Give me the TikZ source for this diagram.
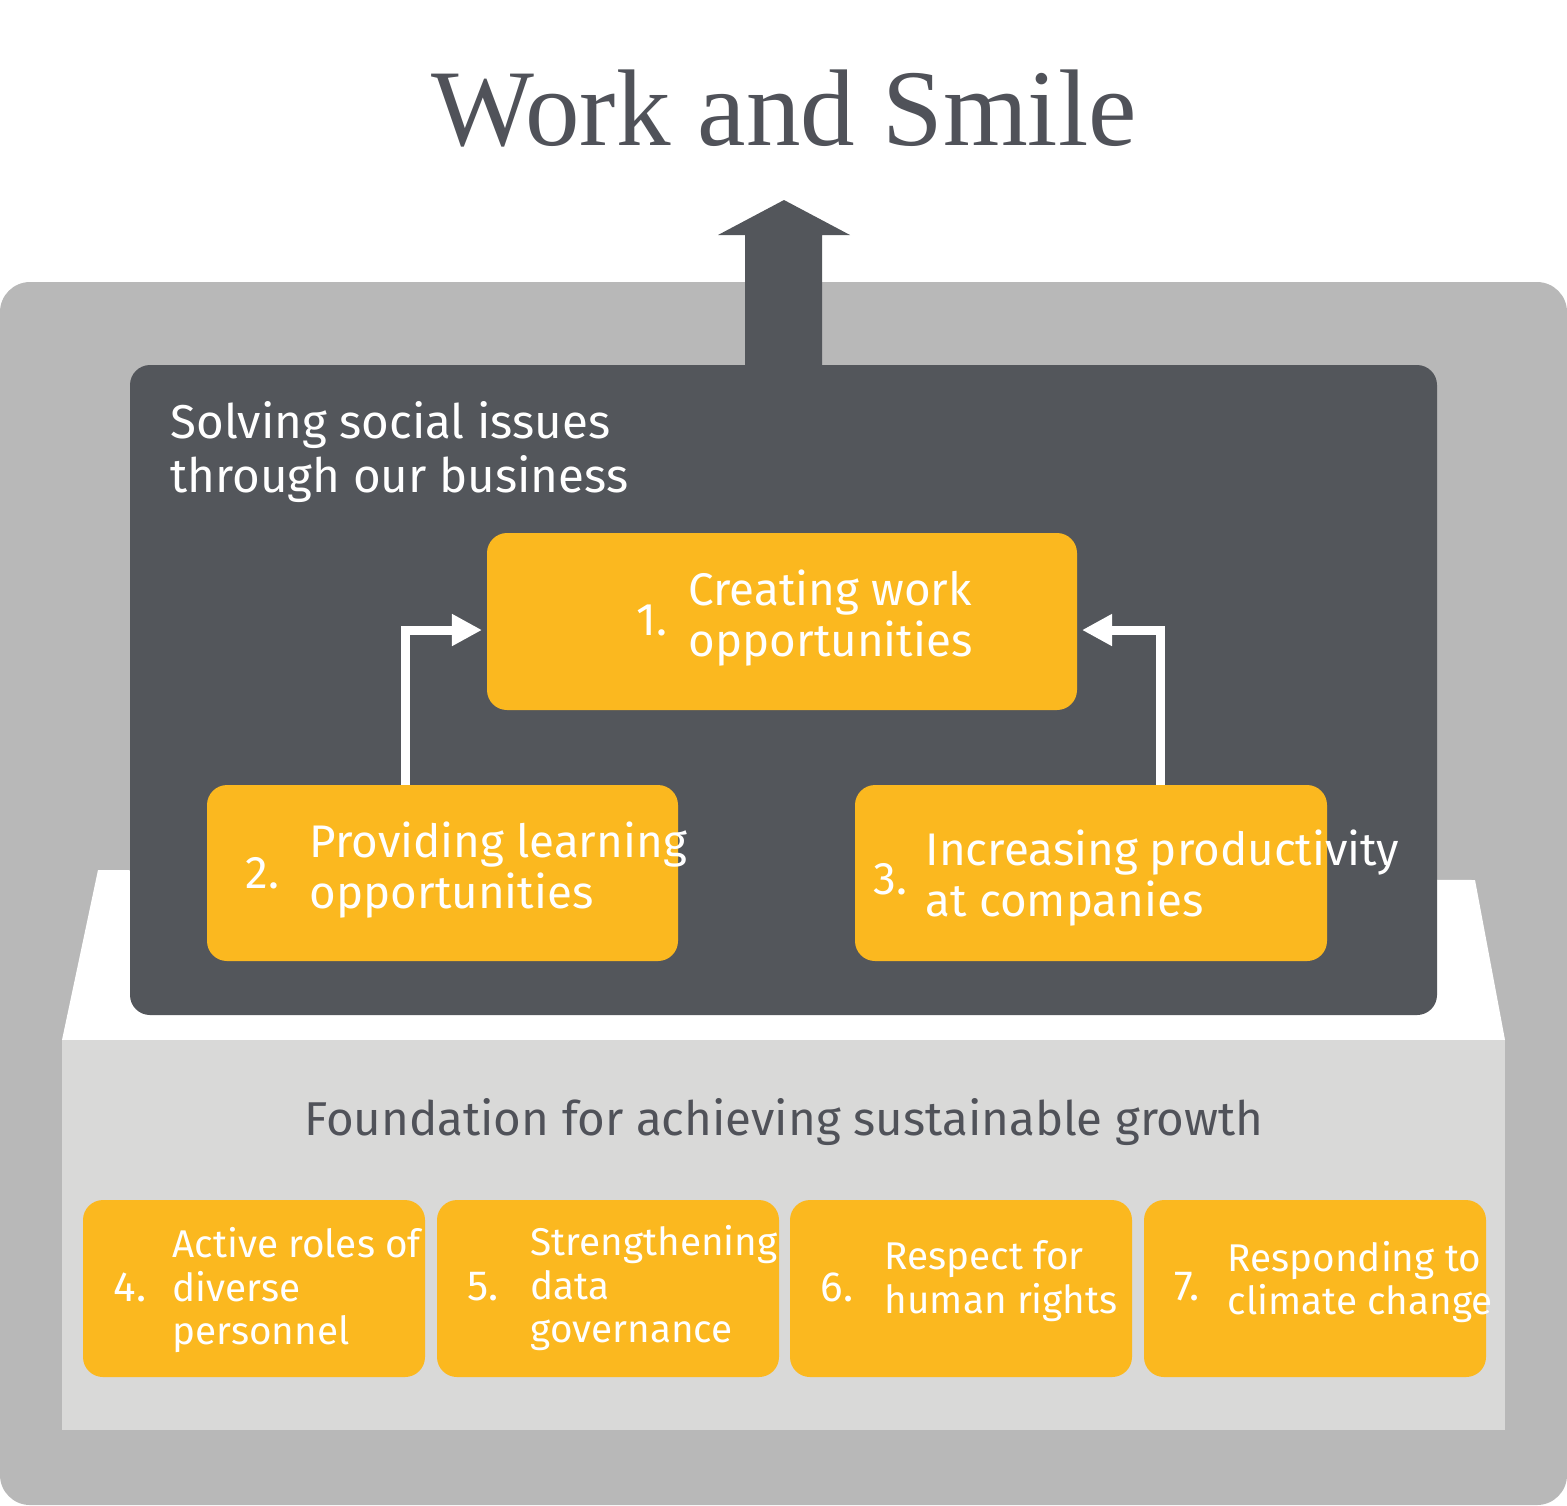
\documentclass[tikz,border=0pt]{standalone}
\usepackage{fontspec}
\usetikzlibrary{arrows.meta}
\setmainfont{Liberation Serif}
\newfontfamily\sansf{Fira Sans}
\definecolor{outer}{HTML}{B8B8B8}
\definecolor{lightg}{HTML}{D9D9D8}
\definecolor{darkb}{HTML}{53565B}
\definecolor{orng}{HTML}{FBB81F}
\definecolor{titlec}{HTML}{505259}
\begin{document}
\begin{tikzpicture}[x=0.01cm,y=-0.01cm,
  obox/.style={fill=orng,rounded corners=0.2cm},
  wtxt/.style={text=white,font=\sansf\fontsize{13}{14.5}\selectfont,anchor=west,align=left,inner sep=0},
  stxt/.style={text=white,font=\sansf\fontsize{11}{12.5}\selectfont,anchor=west,align=left,inner sep=0},
  warr/.style={white,line width=0.09cm,-{Triangle[width=0.3cm,length=0.3cm]}}]
\useasboundingbox (0,0) rectangle (1567,1505);
\fill[outer,rounded corners=0.3cm] (0,282) rectangle (1567,1505);
\fill[white] (98,870) -- (1475,880) -- (1505,1040) -- (62,1040) -- cycle;
\fill[lightg] (62,1040) rectangle (1505,1430);
\fill[darkb] (745,366) -- (745,235) -- (718,235) -- (784,200) -- (850,235) -- (822,235) -- (822,366) -- cycle;
\fill[darkb,rounded corners=0.2cm] (130,365) rectangle (1437,1015);
\node[anchor=center,text=titlec,font=\fontsize{31}{34}\selectfont] (title) at (784,108) {Work and Smile};
\node[wtxt,font=\sansf\fontsize{13.5}{15.5}\selectfont] (sol) at (170,452) {Solving social issues\\through our business};
\fill[obox] (487,533) rectangle (1077,710); \coordinate (b1) at (782,621);
\fill[obox] (207,785) rectangle (678,961);
\fill[obox] (855,785) rectangle (1327,961);
\node[wtxt] (n1) at (636,620) {1.};
\node[wtxt] (t1) at (688,618) {Creating work\\opportunities};
\node[wtxt] (n2) at (245,873) {2.};
\node[wtxt] (t2) at (309,870) {Providing learning\\opportunities};
\node[wtxt] (n3) at (873,879) {3.};
\node[wtxt] (t3) at (925,878) {Increasing productivity\\at companies};
\coordinate (a2s) at (405,785); \coordinate (a2e) at (482,630);
\coordinate (a3s) at (1160,785); \coordinate (a3e) at (1082,630);
\draw[warr] (a2s) |- (a2e);
\draw[warr] (a3s) |- (a3e);
\node[anchor=center,text=titlec,font=\sansf\fontsize{13.5}{15}\selectfont] (fnd) at (784,1122) {Foundation for achieving sustainable growth};
\foreach \x/\n in {83/4,437/5,790/6,1144/7}{
  \fill[obox] (\x,1200) rectangle ++(342,177);
  \node[stxt,font=\sansf\fontsize{12}{13}\selectfont] (num\n) at (\x+30,1287) {\n.};
}
\node[stxt] (t4) at (172,1290) {Active roles of\\diverse\\personnel};
\node[stxt] (t5) at (530,1288) {Strengthening\\data\\governance};
\node[stxt] (t6) at (884,1281) {Respect for\\human rights};
\node[stxt] (t7) at (1227,1282) {Responding to\\climate change};
\end{tikzpicture}
\end{document}
